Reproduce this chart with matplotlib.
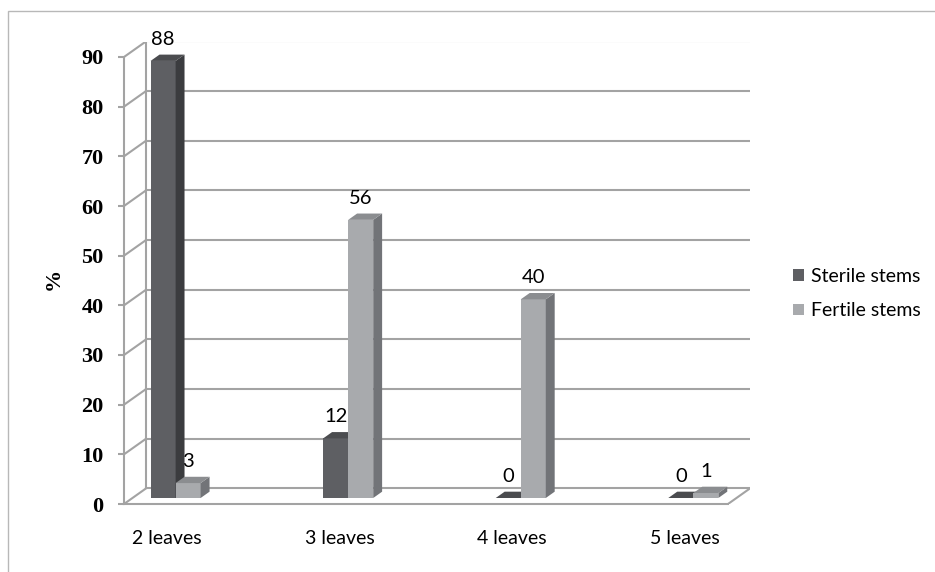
import matplotlib
matplotlib.use('Agg')
import matplotlib.pyplot as plt
from matplotlib.patches import Polygon, Rectangle, Patch

# ---------------- data ----------------
categories = ['2 leaves', '3 leaves', '4 leaves', '5 leaves']
sterile = [88, 12, 0, 0]
fertile = [3, 56, 40, 1]
series_names = ['Sterile stems', 'Fertile stems']
yticks = [0, 10, 20, 30, 40, 50, 60, 70, 80, 90]
ylabel = '%'

# ---------------- styles ----------------
front_cols = ['#5e5f63', '#a8aaad']
side_cols = ['#3b3c3f', '#727478']
top_cols = ['#4b4c4f', '#8b8d90']
grid_col = '#a3a3a3'
sans = ['Lato', 'DejaVu Sans']
serif = ['Liberation Serif', 'DejaVu Serif']

W, H = 935, 572
fig = plt.figure(figsize=(W / 100, H / 100), dpi=100)

# pixel geometry of the plotting box
px_left, px_front_right, px_right = 124, 728, 750
px_zero, px_ninety, px_top = 504, 57, 42
x0, x1 = -0.25, len(categories) - 0.75
px_per_x = (px_front_right - px_left) / (x1 - x0)
px_per_v = (px_zero - px_ninety) / yticks[-1]
ddx = (px_right - px_front_right) / px_per_x      # depth shift (data units)
ddy = 15.6 / px_per_v

ax = fig.add_axes([px_left / W, (H - px_zero) / H,
                   (px_right - px_left) / W, (px_zero - px_top) / H])
ax.set_xlim(x0, x1 + ddx)
ax.set_ylim(0, (px_zero - px_top) / px_per_v)
ax.patch.set_visible(False)
for s in ['top', 'right']:
    ax.spines[s].set_visible(False)
for s in ['left', 'bottom']:
    ax.spines[s].set_color(grid_col)
    ax.spines[s].set_linewidth(1.5)
ax.spines['left'].set_bounds(0, yticks[-1])
ax.spines['bottom'].set_bounds(x0, x1)

# back wall gridlines + side-wall diagonals
bx = x0 + ddx
for v in yticks:
    ax.plot([bx, x1 + ddx], [v + ddy, v + ddy], color=grid_col, lw=1.5, zorder=1)
    ax.plot([x0, bx], [v, v + ddy], color=grid_col, lw=1.5, zorder=1)
ax.plot([bx, bx], [ddy, yticks[-1] + ddy], color=grid_col, lw=1.5, zorder=1)
ax.plot([x1, x1 + ddx], [0, ddy], color=grid_col, lw=1.5, zorder=1)

# bars (pseudo 3-D)
d0, d1 = 0.385, 0.79
off_x, off_y = d0 * ddx, d0 * ddy
bdx, bdy = (d1 - d0) * ddx, (d1 - d0) * ddy
w = 0.145
z = 3
for i in range(len(categories)):
    for k, vals in enumerate([sterile, fertile]):
        v = vals[i]
        xl = i + off_x - w if k == 0 else i + off_x
        xr = xl + w
        b = off_y
        ax.bar(xl, v, width=w, bottom=b, align='edge', color=front_cols[k],
               linewidth=0, zorder=z)
        side = Polygon([(xr, b), (xr, b + v), (xr + bdx, b + v + bdy), (xr + bdx, b + bdy)],
                       closed=True, facecolor=side_cols[k], edgecolor='none', zorder=z)
        top = Polygon([(xl, b + v), (xr, b + v), (xr + bdx, b + v + bdy), (xl + bdx, b + v + bdy)],
                      closed=True, facecolor=top_cols[k], edgecolor='none', zorder=z)
        ax.add_patch(side)
        ax.add_patch(top)
        ax.annotate(str(v), xy=((xl + xr) / 2, b + v), xytext=(0, 11.5),
                    textcoords='offset points', ha='center', va='baseline',
                    fontsize=14.5, family=sans, color='black', zorder=10)
        z += 1

# ticks
ax.set_yticks(yticks)
ax.set_yticklabels([str(t) for t in yticks], family=serif, fontsize=16,
                   fontweight='bold')
ax.tick_params(axis='y', direction='out', length=4.3, width=1.5, color=grid_col,
               pad=10.5)
ax.set_xticks(range(len(categories)))
ax.set_xticklabels(categories, family=sans, fontsize=14)
ax.tick_params(axis='x', length=0, pad=19)

fig.text(54 / W, 1 - 279 / H, ylabel, rotation=90, ha='center', va='center',
         family=serif, fontsize=16, fontweight='bold')

handles = [Patch(facecolor=front_cols[k], edgecolor='none') for k in range(2)]
fig.legend(handles, series_names, loc='center left',
           bbox_to_anchor=(793 / W, 1 - 293.5 / H), frameon=False,
           handlelength=0.55, handleheight=0.55, handletextpad=0.36,
           labelspacing=0.9, borderpad=0, borderaxespad=0,
           prop={'family': sans, 'size': 14})

# outer chart border
fig.patches.append(Rectangle((8 / W, -0.5), 2, (1 - 11 / H) + 0.5,
                             transform=fig.transFigure, fill=False,
                             edgecolor='#b8b8b8', lw=1))

fig.savefig('out.png', dpi=100)
